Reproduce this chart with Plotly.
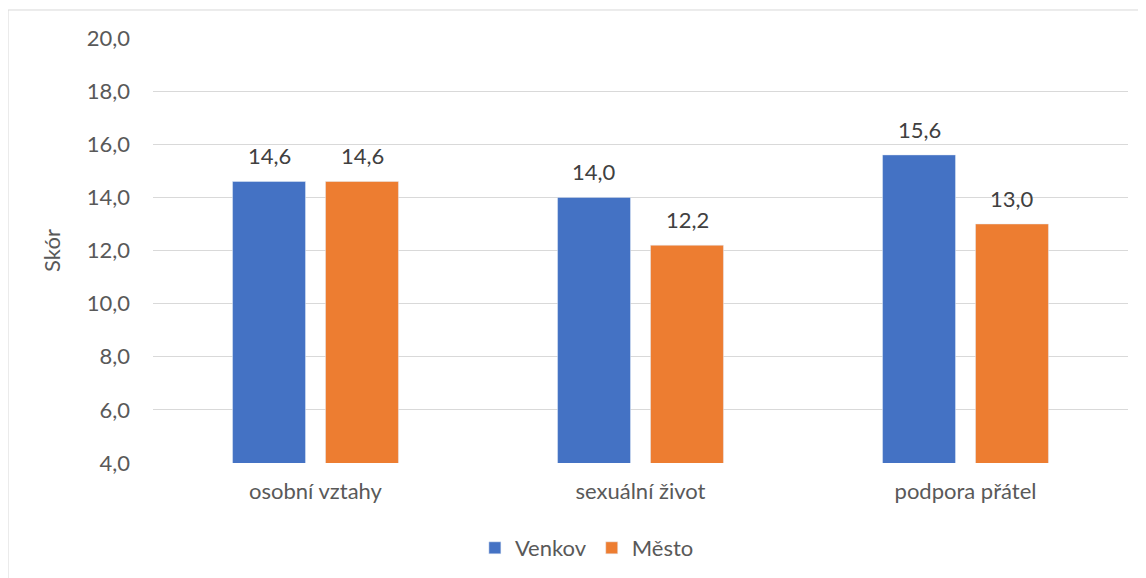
import plotly.graph_objects as go

categories = ["osobní vztahy", "sexuální život", "podpora přátel"]
venkov = [14.6, 14.0, 15.6]
mesto = [14.6, 12.2, 13.0]
y_ticks = [4, 6, 8, 10, 12, 14, 16, 18, 20]

FONT = "Lato, Carlito, 'Liberation Sans', sans-serif"
TXT = "#595959"
LBL = "#404040"

fig = go.Figure()
fig.add_trace(go.Bar(name="Venkov", x=categories, y=venkov, marker_color="#4472C4"))
fig.add_trace(go.Bar(name="Město", x=categories, y=mesto, marker_color="#ED7D31"))

annotations = []
for series, shift in ((venkov, -46.5), (mesto, 46.5)):
    for cat, val in zip(categories, series):
        annotations.append(dict(x=cat, y=val, xref="x", yref="y", text=f"{val:.1f}".replace(".", ","),
                                showarrow=False, xshift=shift, yanchor="bottom", yshift=10,
                                font=dict(size=22, color=LBL, family=FONT)))

fig.update_layout(
    width=1138, height=570,
    margin=dict(l=145, r=18, t=30, b=115, autoexpand=False),
    paper_bgcolor="white", plot_bgcolor="white",
    separators=", ",
    barmode="group", bargap=0.428, bargroupgap=0.215,
    font=dict(family=FONT, size=22, color=TXT),
    legend=dict(orientation="h", x=0.445, xanchor="center", y=-0.2, yanchor="middle",
                font=dict(size=22, color=TXT), itemwidth=30, traceorder="normal"),
    xaxis=dict(showgrid=False, showline=False, ticks="", ticklabelstandoff=13, automargin=False,
               tickfont=dict(size=22, color=TXT)),
    yaxis=dict(range=[4, 20], tickvals=y_ticks, tickformat=".1f", showgrid=True, automargin=False,
               gridcolor="#D9D9D9", gridwidth=1, zeroline=False, showline=False,
               tickfont=dict(size=22, color=TXT), ticklabelstandoff=22,
               title=dict(text="Skór", font=dict(size=22, color=TXT), standoff=20)),
    annotations=annotations,
    shapes=[dict(type="rect", xref="paper", yref="paper", x0=-0.1487, x1=1.1, y0=-0.5, y1=1.0659,
                 line=dict(color="#D9D9D9", width=1), fillcolor="rgba(0,0,0,0)", layer="below")],
)
fig.write_html("out.html")
